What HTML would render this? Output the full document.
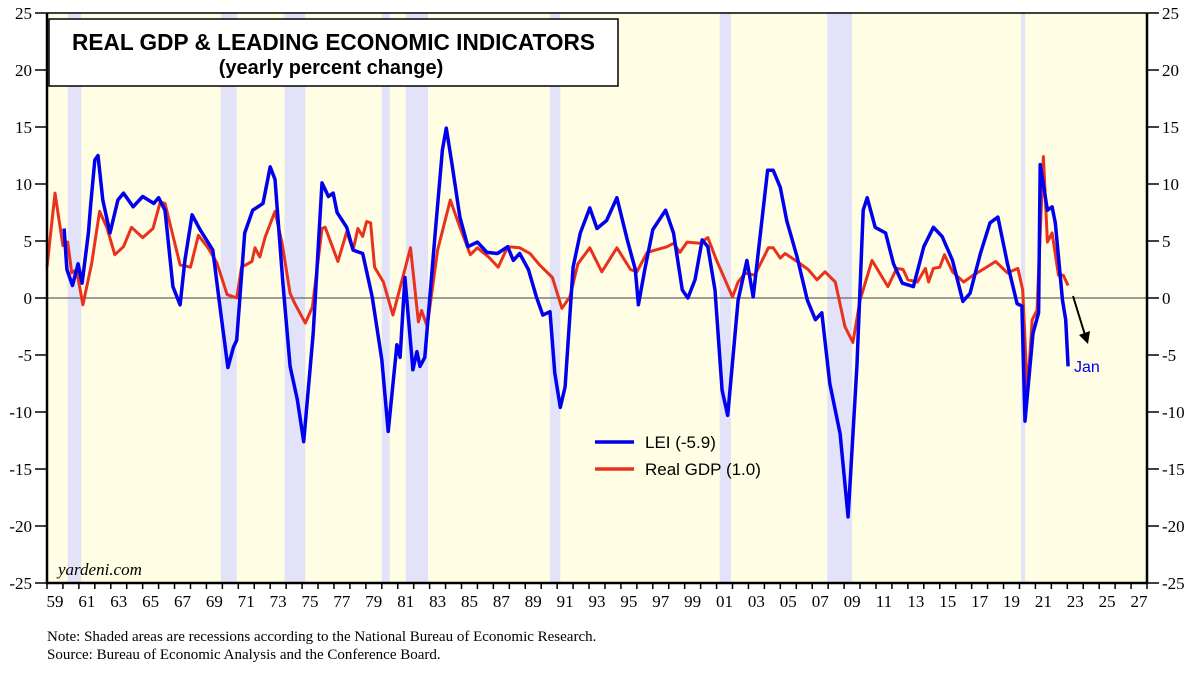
<!DOCTYPE html>
<html><head><meta charset="utf-8"><style>
body{margin:0;background:#fff;width:1200px;height:674px;overflow:hidden}
svg{display:block}
</style></head><body>
<svg id="chart" width="1200" height="674" xmlns="http://www.w3.org/2000/svg" font-family="Liberation Serif, serif">
<rect x="47" y="13" width="1100" height="570" fill="#fffde3"/>
<g id="rec"></g>
<line x1="47" x2="1147" y1="298" y2="298" stroke="#666" stroke-width="1.2"/>
<g id="series"></g>
<g id="axes"></g>
<rect x="49" y="19" width="569" height="67" fill="#fff" stroke="#000" stroke-width="1.5"/>
<text x="72" y="50" textLength="523" lengthAdjust="spacingAndGlyphs" font-family="Liberation Sans, sans-serif" font-weight="bold" font-size="23">REAL GDP &amp; LEADING ECONOMIC INDICATORS</text>
<text x="331" y="74" text-anchor="middle" font-family="Liberation Sans, sans-serif" font-weight="bold" font-size="20">(yearly percent change)</text>
<line x1="595" x2="634" y1="442" y2="442" stroke="#0000ee" stroke-width="3.5"/>
<text x="645" y="448" font-family="Liberation Sans, sans-serif" font-size="17">LEI (-5.9)</text>
<line x1="595" x2="634" y1="469" y2="469" stroke="#e8321e" stroke-width="3.5"/>
<text x="645" y="475" font-family="Liberation Sans, sans-serif" font-size="17">Real GDP (1.0)</text>
<line x1="1073" y1="296" x2="1085" y2="335" stroke="#000" stroke-width="2"/>
<polygon points="1079,335 1088,344 1090,331" fill="#000"/>
<text x="1074" y="372" fill="#0000ee" font-family="Liberation Sans, sans-serif" font-size="16">Jan</text>
<text x="58" y="575" font-style="italic" font-size="17">yardeni.com</text>
<text x="47" y="641" font-size="15">Note: Shaded areas are recessions according to the National Bureau of Economic Research.</text>
<text x="47" y="659" font-size="15">Source: Bureau of Economic Analysis and the Conference Board.</text>
</svg>
<script>
const yTicks=[25,20,15,10,5,0,-5,-10,-15,-20,-25];
const xLabels=["59","61","63","65","67","69","71","73","75","77","79","81","83","85","87","89","91","93","95","97","99","01","03","05","07","09","11","13","15","17","19","21","23","25","27"];
const recStart=[1960.3,1969.9,1973.9,1980.0,1981.5,1990.55,2001.2,2007.95,2020.1];
const recEnd=[1961.15,1970.9,1975.2,1980.5,1982.9,1991.2,2001.9,2009.5,2020.35];
const leiYears=[1960.07,1960.25,1960.6,1960.95,1961.2,1961.6,1961.75,1962.0,1962.2,1962.5,1962.95,1963.45,1963.8,1964.4,1965.0,1965.7,1966.0,1966.4,1966.9,1967.35,1967.65,1968.1,1968.6,1969.4,1969.85,1970.35,1970.7,1970.9,1971.4,1971.9,1972.55,1973.0,1973.3,1973.8,1974.25,1974.7,1975.1,1975.7,1976.25,1976.65,1976.95,1977.2,1977.8,1978.2,1978.8,1979.4,1980.0,1980.4,1980.95,1981.15,1981.45,1981.95,1982.2,1982.4,1982.7,1983.35,1983.8,1984.05,1984.4,1984.9,1985.4,1986.0,1986.6,1987.25,1987.9,1988.25,1988.65,1989.2,1989.7,1990.1,1990.55,1990.85,1991.2,1991.5,1992.0,1992.45,1993.05,1993.5,1994.1,1994.75,1995.4,1995.9,1996.1,1996.5,1997.0,1997.8,1998.3,1998.85,1999.2,1999.65,2000.1,2000.45,2000.9,2001.35,2001.7,2002.35,2002.9,2003.3,2004.2,2004.55,2005.0,2005.4,2006.05,2006.7,2007.2,2007.6,2008.1,2008.75,2009.25,2009.8,2010.2,2010.45,2010.95,2011.6,2012.1,2012.65,2013.35,2014.0,2014.6,2015.15,2015.8,2016.45,2016.9,2017.55,2018.15,2018.65,2019.25,2019.85,2020.15,2020.35,2020.85,2021.2,2021.3,2021.75,2022.05,2022.25,2022.7,2022.9,2023.05];
const leiValues=[6.1,2.5,1.1,3.0,1.3,5.7,8.3,12.1,12.5,8.6,5.7,8.6,9.2,8.0,8.9,8.3,8.8,7.7,1.0,-0.6,3.3,7.3,6.0,4.2,-0.8,-6.1,-4.3,-3.7,5.7,7.7,8.3,11.5,10.4,1.3,-6.0,-8.9,-12.6,-3.1,10.1,8.9,9.2,7.5,6.2,4.2,3.9,0.1,-5.4,-11.7,-4.1,-5.2,1.8,-6.3,-4.7,-6.0,-5.2,5.7,13.0,14.9,11.8,7.1,4.5,4.9,4.0,3.9,4.5,3.3,3.9,2.5,0.1,-1.5,-1.2,-6.6,-9.6,-7.8,2.7,5.7,7.9,6.1,6.8,8.8,5.1,2.5,-0.6,2.5,6.0,7.7,5.7,0.7,0.0,1.6,5.1,4.5,0.7,-8.1,-10.3,-0.2,3.3,0.1,11.2,11.2,9.7,6.8,3.6,-0.2,-1.9,-1.3,-7.5,-11.9,-19.2,-6.0,7.7,8.8,6.2,5.7,3.0,1.3,1.0,4.5,6.2,5.4,3.3,-0.3,0.4,3.9,6.6,7.1,3.0,-0.5,-0.7,-10.8,-3.1,-1.3,11.7,7.7,8.0,6.6,-0.2,-1.9,-6.0];
const gdpYears=[1959.0,1959.5,1960.0,1960.3,1960.55,1960.85,1961.25,1961.8,1962.3,1962.75,1963.25,1963.8,1964.3,1965.0,1965.65,1966.1,1966.4,1967.35,1968.0,1968.5,1969.1,1969.65,1970.3,1970.9,1971.2,1971.85,1972.05,1972.35,1972.7,1973.3,1973.75,1974.25,1974.55,1975.2,1975.65,1976.25,1976.45,1977.25,1977.8,1978.2,1978.5,1978.8,1979.05,1979.3,1979.55,1980.1,1980.7,1981.8,1982.3,1982.5,1982.85,1983.5,1984.3,1984.8,1985.55,1986.0,1986.7,1987.3,1987.9,1988.65,1989.3,1989.9,1990.7,1991.3,1991.8,1992.3,1993.05,1993.8,1994.75,1995.6,1996.0,1996.65,1997.9,1998.3,1998.7,1999.15,1999.95,2000.45,2001.0,2002.0,2002.35,2002.8,2003.4,2004.25,2004.55,2005.0,2005.3,2006.05,2006.75,2007.3,2007.8,2008.45,2009.05,2009.55,2010.0,2010.75,2011.4,2011.75,2012.3,2012.7,2013.0,2013.6,2014.1,2014.3,2014.6,2015.0,2015.3,2015.8,2016.5,2017.1,2017.7,2018.5,2019.25,2019.9,2020.2,2020.5,2020.8,2021.1,2021.5,2021.75,2022.05,2022.45,2022.75,2023.05];
const gdpValues=[2.7,9.2,4.6,4.9,2.2,2.5,-0.6,3.0,7.6,6.2,3.8,4.5,6.2,5.3,6.1,8.4,8.3,2.9,2.7,5.5,4.4,3.1,0.3,0.0,2.7,3.2,4.4,3.6,5.4,7.6,4.8,0.4,-0.5,-2.2,-0.8,6.1,6.2,3.2,5.8,4.2,6.1,5.4,6.7,6.6,2.7,1.4,-1.5,4.4,-2.1,-1.1,-2.5,4.2,8.6,6.6,3.8,4.4,3.6,2.7,4.5,4.4,3.9,2.9,1.8,-0.9,0.1,3.0,4.4,2.3,4.4,2.5,2.3,4.0,4.5,4.8,4.0,4.9,4.8,5.3,3.3,0.1,1.4,2.2,2.0,4.4,4.4,3.5,3.9,3.2,2.5,1.6,2.3,1.4,-2.5,-3.9,-0.2,3.3,1.8,1.0,2.6,2.5,1.6,1.4,2.6,1.4,2.6,2.7,3.8,2.3,1.4,2.0,2.5,3.2,2.2,2.6,0.7,-8.3,-1.9,-1.1,12.4,4.9,5.7,2.0,2.0,1.1];

const NS="http://www.w3.org/2000/svg";
const X0=47,X1=1147,Y0=13,Y1=583,YR0=1959,YR1=2028;
const xs=yr=>X0+(yr-YR0)*(X1-X0)/(YR1-YR0);
const ys=v=>Y1-(v+25)*(Y1-Y0)/50;
function mk(tag,attrs,parent){const e=document.createElementNS(NS,tag);for(const k in attrs)e.setAttribute(k,attrs[k]);parent.appendChild(e);return e;}
const rec=document.getElementById('rec'),ser=document.getElementById('series'),ax=document.getElementById('axes');
for(let i=0;i<recStart.length;i++){
  const r=mk('rect',{x:xs(recStart[i]),y:Y0,width:xs(recEnd[i])-xs(recStart[i]),height:Y1-Y0,fill:'#e2e3f8'},rec);
  
  
}
function line(yrs,vals,color,w,name){
  const d=yrs.map((y,i)=>(i?'L':'M')+xs(y).toFixed(1)+' '+ys(vals[i]).toFixed(1)).join(' ');
  const p=mk('path',{d:d,fill:'none',stroke:color,'stroke-width':w,'stroke-linejoin':'round'},ser);
  
  
}
line(gdpYears,gdpValues,'#e8321e',3,'gdp-line');
line(leiYears,leiValues,'#0000ee',3.5,'lei-line');
const f=mk('path',{d:`M${X0} ${Y0} V${Y1} H${X1} V${Y0}`,fill:'none',stroke:'#000','stroke-width':2.5},ax);


const tl=mk('line',{x1:X0,x2:X1,y1:Y0,y2:Y0,stroke:'#000','stroke-width':1.5},ax);


yTicks.forEach(v=>{
  const y=ys(v);
  const t1=mk('line',{x1:X0-12,x2:X0,y1:y,y2:y,stroke:'#000','stroke-width':1.5},ax);
  
  
  const t2=mk('line',{x1:X1,x2:X1+12,y1:y,y2:y,stroke:'#000','stroke-width':1.5},ax);
  
  
  const l=mk('text',{x:X0-15,y:y+6,'text-anchor':'end','font-size':17},ax);l.textContent=v;
  
  
  const r=mk('text',{x:X1+15,y:y+6,'font-size':17},ax);r.textContent=v;
  
  
});
for(let yr=YR0;yr<=YR1;yr++){
  const t=mk('line',{x1:xs(yr),x2:xs(yr),y1:Y1,y2:Y1+6,stroke:'#000','stroke-width':1.5},ax);
  
  
}
xLabels.forEach((s,i)=>{
  const yr=YR0+2*i;
  const t=mk('text',{x:xs(yr+0.5),y:Y1+24,'text-anchor':'middle','font-size':17},ax);t.textContent=s;
  
  
});
</script>
</body></html>
